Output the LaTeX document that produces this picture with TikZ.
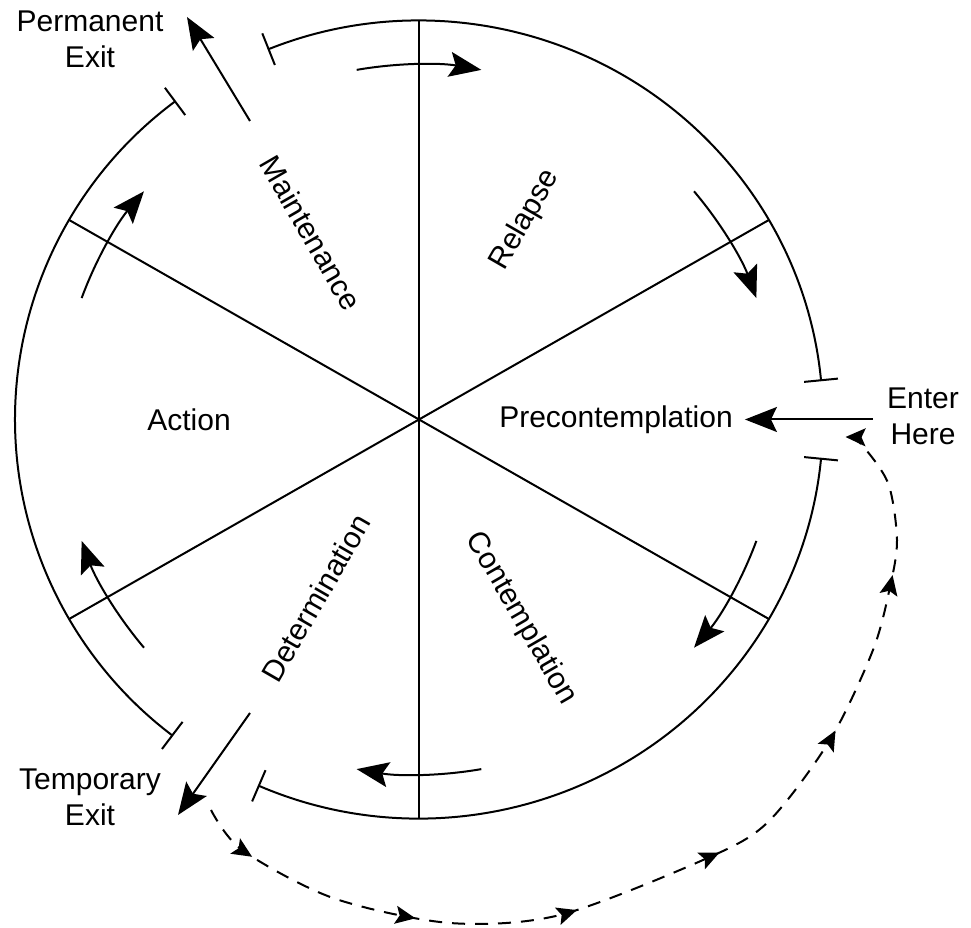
\documentclass[tikz,border=0pt]{standalone}
\usepackage{fontspec}
\setmainfont{Liberation Sans}
\usetikzlibrary{arrows.meta,calc,decorations.markings}
\tikzset{
  bighead/.tip={Stealth[length=32pt,width=25pt,inset=6pt]},
  smallhead/.tip={Stealth[length=20pt,width=18pt,inset=4pt]}
}
\begin{document}
\begin{tikzpicture}[x=1pt,y=1pt,
  txt/.style={font=\fontsize{30}{36}\selectfont, inner sep=0pt, align=center},
  ring/.style={line width=2pt},
  ringend/.style={ring, {Bar[width=34pt]}-{Bar[width=34pt]}},
  flow/.style={line width=2pt, -{bighead}},
  loopline/.style={line width=2pt, dash pattern=on 13pt off 10pt,
    postaction={decorate},
    decoration={markings,
      mark=at position 0.06 with {\arrow{smallhead}},
      mark=at position 0.227 with {\arrow{smallhead}},
      mark=at position 0.382 with {\arrow{smallhead}},
      mark=at position 0.528 with {\arrow{smallhead}},
      mark=at position 0.691 with {\arrow{smallhead}},
      mark=at position 0.849 with {\arrow{smallhead}},
      mark=at position 0.9995 with {\arrow{smallhead}}}}
]
\useasboundingbox (0,0) rectangle (971,928);
\coordinate (C) at (419,508.5);

% ring with gaps
\draw[ringend] ($(C)+(5.5:404 and 399)$) arc[start angle=5.5, end angle=112, x radius=404, y radius=399];
\draw[ringend] ($(C)+(127:404 and 399)$) arc[start angle=127, end angle=232.5, x radius=404, y radius=399];
\draw[ringend] ($(C)+(246.5:404 and 399)$) arc[start angle=246.5, end angle=354.5, x radius=404, y radius=399];

% spokes
\foreach \a/\b in {30/210,90/270,150/330}{
  \draw[ring] ($(C)+(\a:404 and 399)$) -- ($(C)+(\b:404 and 399)$);
}

% circulating arrows
\foreach \sa/\se in {100/80,40/20,-20/-40,-80/-100,-140/-160,160/140}{
  \draw[flow] ($(C)+(\sa:359 and 355)$) arc[start angle=\sa, end angle=\se, x radius=359, y radius=355];
}

% labels
\node[txt] (perm) at (90,888.7) {Permanent\\Exit};
\node[txt] (temp) at (90,131) {Temporary\\Exit};
\node[txt] (enter) at (923,512) {Enter\\Here};
\node[txt] (pre) at (616,508.5) {Precontemplation};
\node[txt] (act) at (189,508) {Action};
\node[txt, rotate=60] (rel) at ($(C)+(106,199.5)$) {Relapse};
\node[txt, rotate=-60] (mnt) at ($(C)+(-108,186.5)$) {Maintenance};
\node[txt, rotate=60] (det) at ($(C)+(-103,-178.5)$) {Determination};
\node[txt, rotate=-60] (con) at ($(C)+(102,-199)$) {Contemplation};

% exit arrows
\coordinate (pmStart) at (250,807);
\coordinate (pmTip) at (187,911);
\draw[flow] (pmStart) -- (pmTip);
\coordinate (tmStart) at (250,215);
\coordinate (tmTip) at (178,113);
\draw[flow] (tmStart) -- (tmTip);

% enter arrow
\draw[flow] ($(enter.west |- pre.east)+(-14,0)$) -- ($(pre.east)+(12,0)$);

% dashed return loop
\coordinate (dS) at (211,118);
\coordinate (dE) at (845,491);
\draw[loopline] plot[smooth] coordinates {(dS) (242,78) (333,30) (450,5) (560,13) (703,68) (767,105) (830,188) (873,278) (890,341) (897,388) (888,445) (860,485) (dE)};
\end{tikzpicture}
\end{document}
